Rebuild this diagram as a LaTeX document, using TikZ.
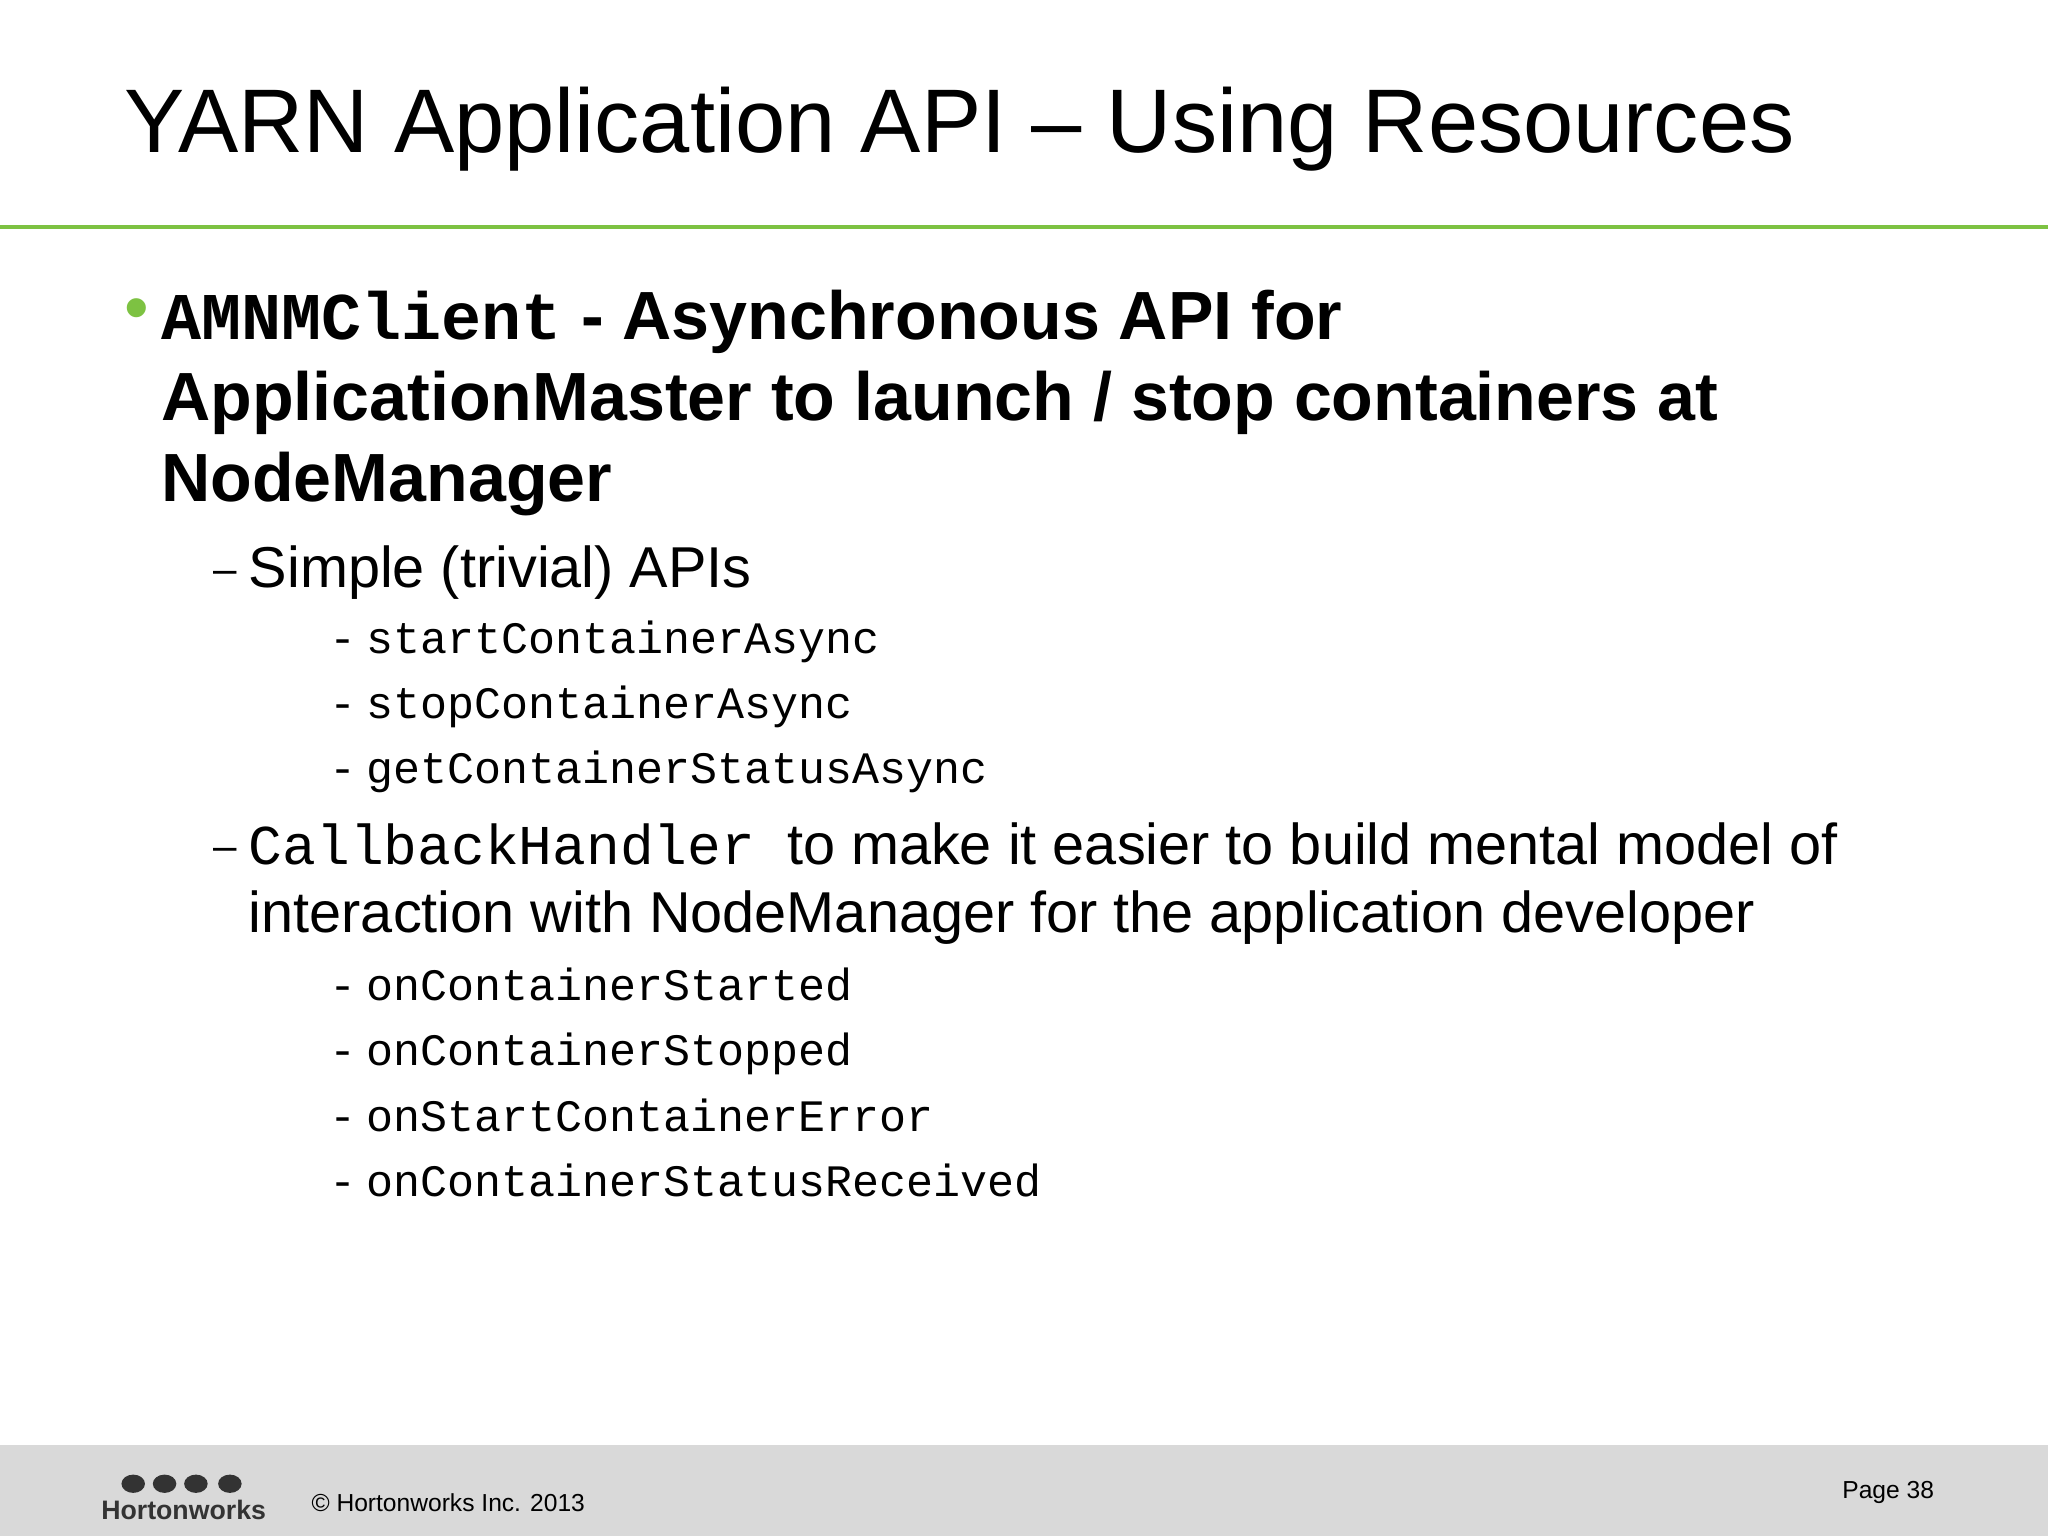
\documentclass[tikz,border=0pt]{standalone}
\usepackage{fontspec}
\setmainfont{Liberation Sans}
\setmonofont{Liberation Mono}
\definecolor{hgreen}{HTML}{7DC242}
\definecolor{foot}{HTML}{D9D9D9}
\begin{document}
\begin{tikzpicture}[x=0.01306cm,y=-0.01306cm,
  t/.style={anchor=base west,inner sep=0pt,text=black},
  big/.style={t,font=\fontsize{19.4}{24}\selectfont\bfseries},
  mid/.style={t,font=\fontsize{16.4}{20}\selectfont},
  code/.style={t,font=\fontsize{12.8}{15}\ttfamily}]
\useasboundingbox (0,0) rectangle (1568,1176);
\fill[white] (0,0) rectangle (1568,1176);
\fill[foot] (0,1106) rectangle (1568,1176);
\draw[hgreen,line width=1.2pt] (0,174) -- (1568,174);
\node[t,font=\fontsize{25.7}{30}\selectfont] (title) at (95,117) {YARN Application API – Using Resources};
\node[t,text=hgreen,font=\fontsize{20}{24}\selectfont] (b1) at (95,254) {•};
\node[big] (l1) at (123,260) {{\fontsize{19}{22}\ttfamily\bfseries AMNMClient} - Asynchronous API for};
\node[big] (l2) at (123,322) {ApplicationMaster to launch / stop containers at};
\node[big] (l3) at (123,384) {NodeManager};
\node[t,font=\fontsize{12}{14}\selectfont] (d1) at (163,447) {–};
\node[mid] (s1) at (190,450) {Simple (trivial) APIs};
\foreach \y/\n/\s in {500/c1/startContainerAsync,550/c2/stopContainerAsync,600/c3/getContainerStatusAsync,766/c4/onContainerStarted,816/c5/onContainerStopped,866/c6/onStartContainerError,916/c7/onContainerStatusReceived}{
  \node[code] (\n d) at (252,\y) {-};
  \node[code] (\n) at (280,\y) {\s};
}
\node[t,font=\fontsize{12}{14}\selectfont] (d2) at (163,659) {–};
\node[mid] (s2) at (190,662) {{\fontsize{16}{19}\ttfamily CallbackHandler}\ \ to make it easier to build mental model of};
\node[mid] (s3) at (190,714) {interaction with NodeManager for the application developer};
\node[t,font=\fontsize{7}{9}\selectfont] (copy) at (238,1157) {© Hortonworks Inc. 2013};
\node[t,font=\fontsize{7}{9}\selectfont] (page) at (1410,1147) {Page 38};
\node[t,font=\fontsize{7.6}{9}\selectfont\bfseries,text=black!80] (logo) at (77,1163) {Hortonworks};
\foreach \x in {102,126,150,176}{\fill[black!80] (\x,1136) ellipse (9 and 7);}
\end{tikzpicture}
\end{document}
